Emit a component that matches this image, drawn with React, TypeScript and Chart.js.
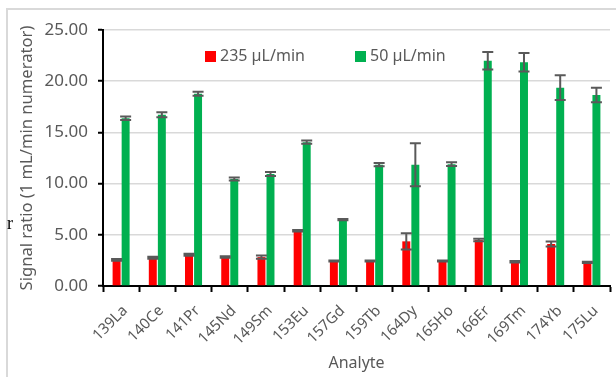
import React, { useEffect, useRef } from "react";
import { Chart, registerables } from "chart.js";
Chart.register(...registerables);

const categories = ["139La", "140Ce", "141Pr", "145Nd", "149Sm", "153Eu", "157Gd", "159Tb", "164Dy", "165Ho", "166Er", "169Tm", "174Yb", "175Lu"];
const series235Label = "235 µL/min";
const series50Label = "50 µL/min";
const series235 = [2.55, 2.75, 3.05, 2.83, 2.82, 5.4, 2.44, 2.44, 4.36, 2.44, 4.5, 2.37, 4.1, 2.31];
const err235 = [0.08, 0.1, 0.1, 0.08, 0.15, 0.08, 0.05, 0.05, 0.8, 0.05, 0.12, 0.08, 0.25, 0.06];
const series50 = [16.38, 16.72, 18.78, 10.45, 10.94, 14.05, 6.48, 11.85, 11.85, 11.9, 22.0, 21.85, 19.37, 18.65];
const err50 = [0.17, 0.25, 0.2, 0.15, 0.2, 0.15, 0.06, 0.15, 2.1, 0.18, 0.85, 0.9, 1.2, 0.7];
const errors = [err235, err50];
const yMin = 0;
const yMax = 25;
const yStep = 5;
const yTitle = "Signal ratio (1 mL/min numerator)";
const xTitle = "Analyte";

const FONT = "'Noto Sans', sans-serif";
const TEXT = "#595959";

const errorBarPlugin = {
  id: "errorBars",
  afterDatasetsDraw(chart: any) {
    const ctx = chart.ctx;
    const y = chart.scales.y;
    ctx.save();
    ctx.strokeStyle = "#595959";
    ctx.lineWidth = 2;
    chart.data.datasets.forEach((ds: any, di: number) => {
      const meta = chart.getDatasetMeta(di);
      meta.data.forEach((bar: any, i: number) => {
        const v = ds.data[i];
        const e = errors[di][i];
        const yTop = y.getPixelForValue(v + e);
        const yBot = y.getPixelForValue(v - e);
        const x = bar.x;
        const hw = 5.5;
        ctx.beginPath();
        ctx.moveTo(x, yTop);
        ctx.lineTo(x, yBot);
        ctx.moveTo(x - hw, yTop);
        ctx.lineTo(x + hw, yTop);
        ctx.moveTo(x - hw, yBot);
        ctx.lineTo(x + hw, yBot);
        ctx.stroke();
      });
    });
    ctx.restore();
  },
};

const legendPlugin = {
  id: "insideLegend",
  afterDraw(chart: any) {
    const ctx = chart.ctx;
    const xs = [205, 355];
    const top = 51;
    ctx.save();
    ctx.font = `16px ${FONT}`;
    ctx.textBaseline = "middle";
    ctx.textAlign = "left";
    chart.data.datasets.forEach((ds: any, i: number) => {
      ctx.fillStyle = ds.backgroundColor;
      ctx.fillRect(xs[i], top, 11, 11);
      ctx.fillStyle = TEXT;
      ctx.fillText(ds.label, xs[i] + 15, top + 5.5);
    });
    ctx.restore();
  },
};

export default function App() {
  const ref = useRef<HTMLCanvasElement>(null);
  useEffect(() => {
    if (!ref.current) return;
    const chart = new Chart(ref.current, {
      type: "bar",
      data: {
        labels: categories,
        datasets: [
          { label: series235Label, data: series235, backgroundColor: "#FF0000", categoryPercentage: 0.5, barPercentage: 0.88 },
          { label: series50Label, data: series50, backgroundColor: "#00B050", categoryPercentage: 0.5, barPercentage: 0.88 },
        ],
      },
      options: {
        responsive: false,
        animation: false,
        devicePixelRatio: 1,
        layout: { padding: { top: 30, right: 6, left: 0, bottom: 0 } },
        plugins: { legend: { display: false }, tooltip: { enabled: false }, title: { display: false } },
        scales: {
          x: {
            offset: true,
            grid: { display: true, drawOnChartArea: false, drawTicks: true, tickLength: 6, tickColor: "#000", tickWidth: 2, offset: true },
            border: { display: true, color: "#000", width: 2 },
            ticks: { minRotation: 45, maxRotation: 45, color: TEXT, font: { family: FONT, size: 15 }, padding: 10, labelOffset: 4, autoSkip: false },
            title: { display: true, text: xTitle, color: TEXT, font: { family: FONT, size: 16 }, padding: { top: 0, bottom: 4 } },
            afterFit(scale: any) { scale.height = 91; },
          },
          y: {
            min: yMin,
            max: yMax,
            ticks: { stepSize: yStep, color: TEXT, font: { family: FONT, size: 17 }, padding: 10, callback: (v: any) => Number(v).toFixed(2) },
            grid: { color: "#d9d9d9", lineWidth: 1.5, tickColor: "#000", tickLength: 5, tickWidth: 2 },
            border: { display: true, color: "#000", width: 2 },
            title: { display: true, text: yTitle, color: TEXT, font: { family: FONT, size: 16.6 }, padding: { top: 17, bottom: 0 } },
            afterFit(scale: any) { scale.width = 103; },
          },
        },
      },
      plugins: [errorBarPlugin, legendPlugin],
    });
    return () => chart.destroy();
  }, []);
  return (
    <div style={{ position: "fixed", left: 0, top: 0, width: 616, height: 377, overflow: "hidden", background: "#fff" }}>
      <div style={{ position: "absolute", left: 6, top: 8, width: 700, height: 500, borderLeft: "2px solid #d9d9d9", borderTop: "2px solid #d9d9d9" }} />
      <canvas ref={ref} width={616} height={377} style={{ position: "absolute", left: 0, top: 0, width: 616, height: 377 }} />
      <span style={{ position: "absolute", left: 7, top: 214, fontFamily: "'Liberation Serif', serif", fontSize: 18, lineHeight: 1, color: "#000" }}>r</span>
    </div>
  );
}
